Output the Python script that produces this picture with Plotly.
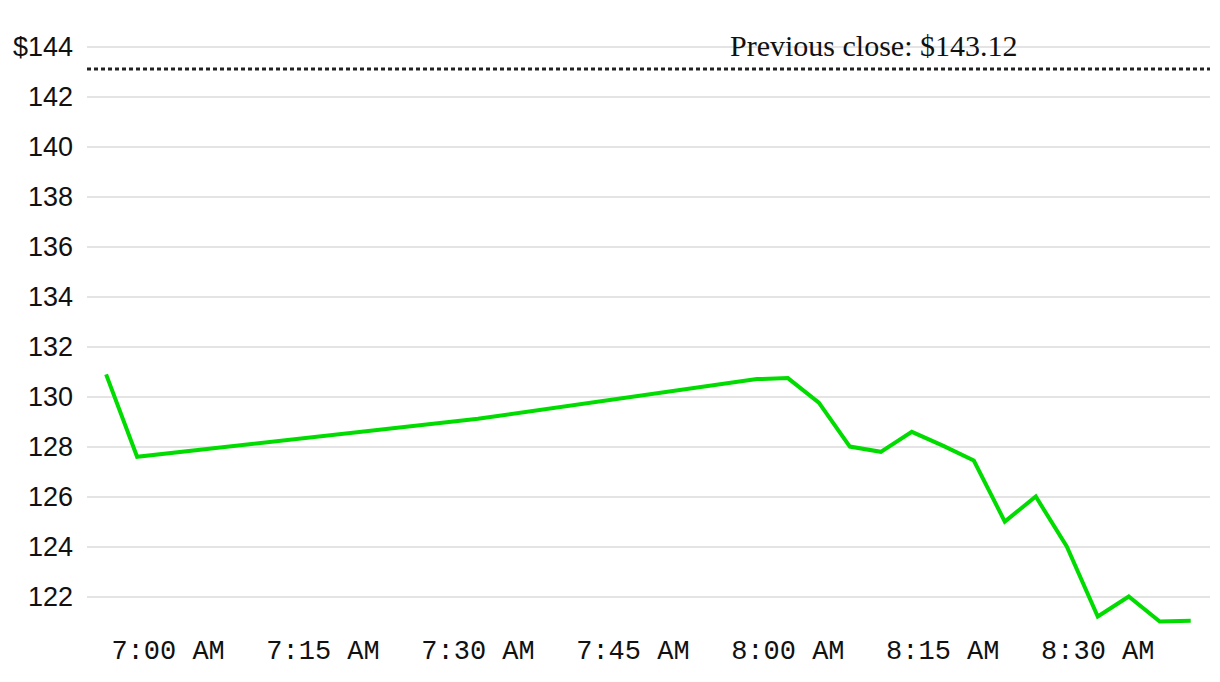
import plotly.graph_objects as go
import pandas as pd

# price readings (time of day, price in $)
times = ["06:54", "06:57", "07:30", "07:57", "08:00", "08:03", "08:06", "08:09",
         "08:12", "08:15", "08:18", "08:21", "08:24", "08:27", "08:30", "08:33",
         "08:36", "08:39"]
prices = [130.9, 127.6, 129.12, 130.71, 130.75, 129.77, 128.01, 127.8,
          128.6, 128.05, 127.45, 125.01, 126.01, 124.01, 121.21, 122.01,
          121.01, 121.04]

previous_close = 143.12

x_tick_times = ["07:00", "07:15", "07:30", "07:45", "08:00", "08:15", "08:30"]
x_tick_labels = ["7:00 AM", "7:15 AM", "7:30 AM", "7:45 AM", "8:00 AM", "8:15 AM", "8:30 AM"]
y_tick_vals = [122, 124, 126, 128, 130, 132, 134, 136, 138, 140, 142, 144]
y_tick_labels = ["122", "124", "126", "128", "130", "132", "134", "136", "138", "140", "142", "$144"]

day = "2021-03-05 "
x = pd.to_datetime([day + t for t in times])
x_ticks = pd.to_datetime([day + t for t in x_tick_times])
x_start = x[0] - pd.Timedelta(seconds=111)
x_end = x[-1] + pd.Timedelta(seconds=112)

fig = go.Figure()

# previous close reference line
fig.add_trace(go.Scatter(
    x=[x_start, x_end], y=[previous_close, previous_close],
    mode="lines", line=dict(color="#222222", width=3, dash="4px,3px"),
    hoverinfo="skip", showlegend=False,
))

fig.add_trace(go.Scatter(
    x=x, y=prices, mode="lines",
    line=dict(color="#00dc00", width=4),
    showlegend=False,
))

fig.add_annotation(
    x=0.70, xref="paper", xanchor="center",
    y=previous_close, yref="y", yanchor="bottom", yshift=5,
    text=f"Previous close: ${previous_close:.2f}", showarrow=False,
    font=dict(family="Liberation Serif", size=30, color="#111111"),
)

fig.update_layout(
    width=1220, height=682,
    margin=dict(l=79, r=18, t=29, b=62),
    plot_bgcolor="white", paper_bgcolor="white",
    xaxis=dict(
        range=[x_start, x_end], tickvals=x_ticks, ticktext=x_tick_labels,
        showgrid=False, zeroline=False, showline=False, ticks="",
        ticklabelstandoff=3, automargin=False,
        tickfont=dict(family="Liberation Mono", size=27, color="#111111"),
    ),
    yaxis=dict(
        range=[120.75, 144.4], tickvals=y_tick_vals, ticktext=y_tick_labels,
        showgrid=True, gridcolor="#e4e4e4", gridwidth=1.5, zeroline=False,
        ticks="", ticklabelstandoff=13, automargin=False,
        tickfont=dict(family="Liberation Sans", size=27, color="#111111"),
    ),
)

fig.write_html("out.html")
